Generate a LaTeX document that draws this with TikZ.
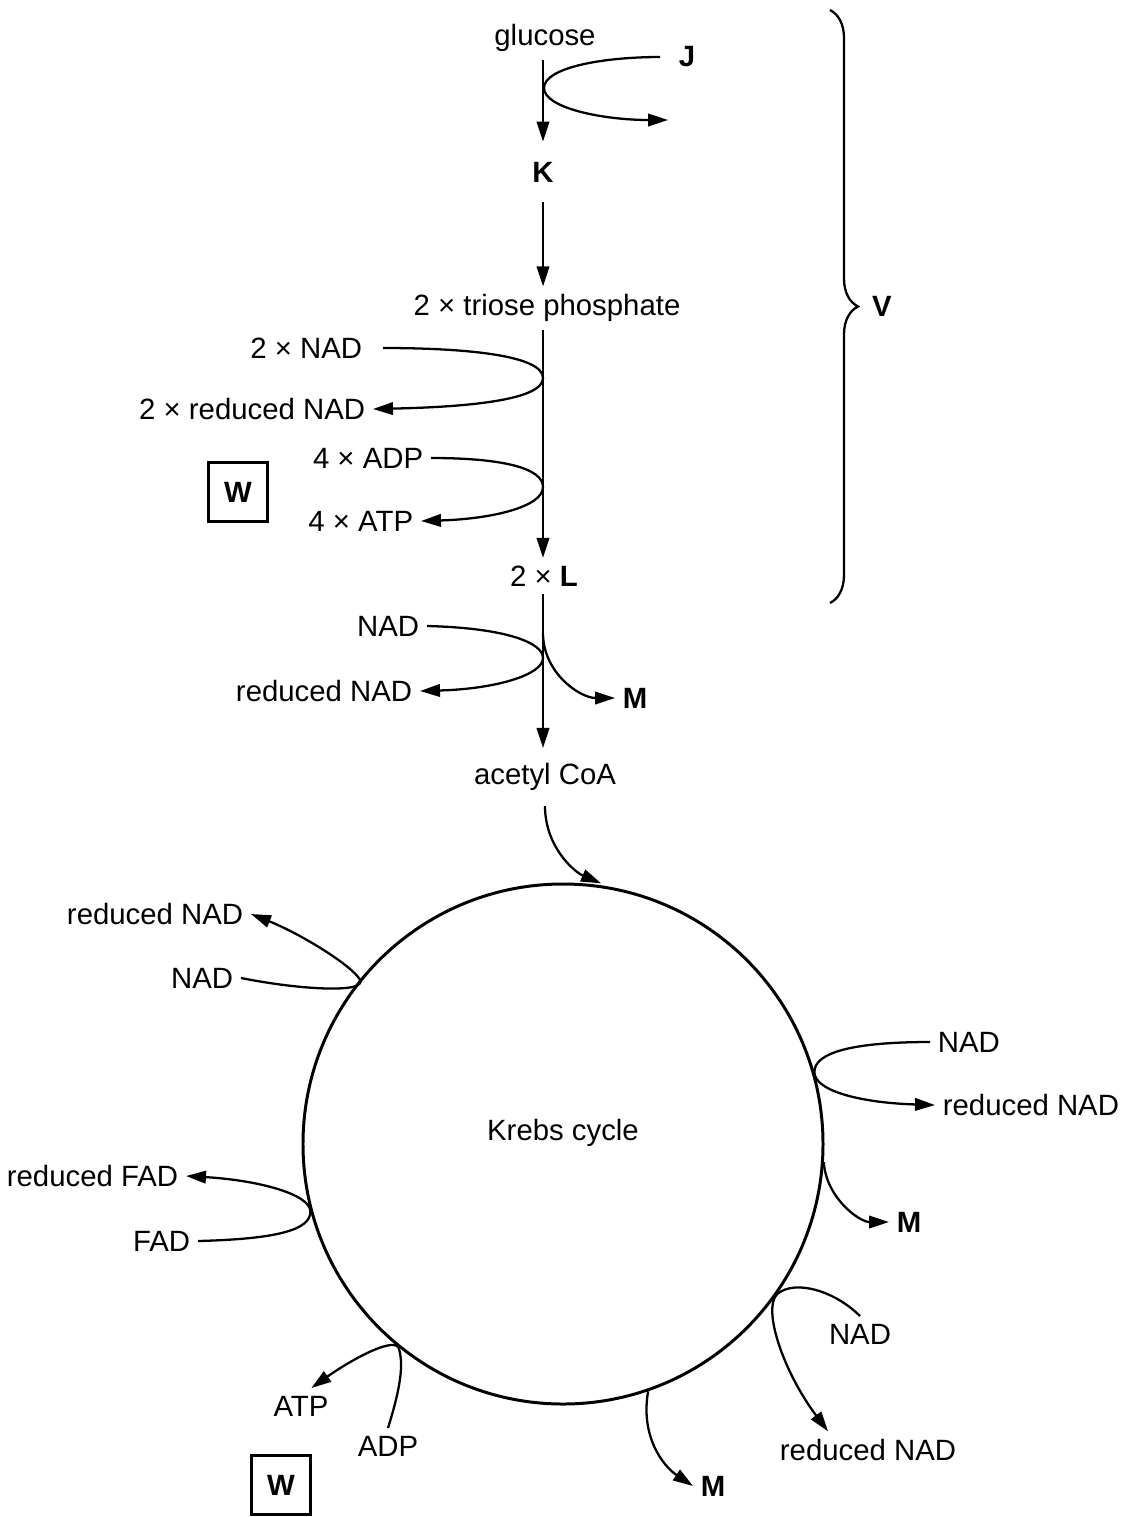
\documentclass[tikz,border=0pt]{standalone}
\usepackage{fontspec}
\setmainfont{Liberation Sans}
\usetikzlibrary{arrows.meta,positioning,decorations.pathreplacing}

\begin{document}
\begin{tikzpicture}[
    x=0.2mm, y=-0.2mm,
    lbl/.style={inner sep=1.5mm, font=\fontsize{16.7}{20}\selectfont},
    flow/.style={line width=1.3pt, -{Triangle[length=4mm,width=2.5mm]}},
    wbox/.style={draw, line width=1.4pt, minimum size=11.8mm, inner sep=0pt, font=\fontsize{16.7}{20}\selectfont\bfseries}
  ]
  \useasboundingbox (0,0) rectangle (1126,1517);

  % glycolysis
  \node[lbl] (glucose) at (545,38) {glucose};
  \node[lbl, anchor=west] (J) at (671,57) {\textbf{J}};
  \node[lbl, inner sep=4mm] (K) at (543,172) {\textbf{K}};
  \node[lbl] (triose) at (547,308) {2 × triose phosphate};
  \node[lbl, anchor=east] (nadA) at (370,348) {2 × NAD};
  \node[lbl, anchor=east] (rnadA) at (373,409) {2 × reduced NAD};
  \node[lbl, anchor=east] (adp) at (431,458) {4 × ADP};
  \node[lbl, anchor=east] (atp) at (421,521) {4 × ATP};
  \node[wbox] (wA) at (238,492) {W};
  \node[lbl] (Ltwo) at (544,576) {2 × \textbf{L}};
  \node[lbl] (V) at (882,306) {\textbf{V}};

  % link reaction
  \node[lbl, anchor=east] (nadB) at (427,626) {NAD};
  \node[lbl, anchor=east] (rnadB) at (420,691) {reduced NAD};
  \node[lbl, anchor=west] (mA) at (615,698) {\textbf{M}};
  \node[lbl, inner sep=3mm] (acoa) at (545,777) {acetyl CoA};

  % Krebs cycle
  \node[draw, circle, line width=1.7pt, minimum size=104mm, inner sep=0pt] (krebs) at (563,1144) {};
  \node[lbl] (ktext) at (563,1133) {Krebs cycle};
  \node[lbl, anchor=east] (rnadC) at (251,914) {reduced NAD};
  \node[lbl, anchor=east] (nadC) at (241,978) {NAD};
  \node[lbl, anchor=west] (nadD) at (930,1042) {NAD};
  \node[lbl, anchor=west] (rnadD) at (935,1105) {reduced NAD};
  \node[lbl, anchor=west] (mB) at (889,1222) {\textbf{M}};
  \node[lbl, anchor=east] (rfad) at (186,1176) {reduced FAD};
  \node[lbl, anchor=east] (fad) at (198,1241) {FAD};
  \node[lbl] (atpB) at (301,1406) {ATP};
  \node[lbl] (adpB) at (388,1446) {ADP};
  \node[wbox] (wB) at (281,1485) {W};
  \node[lbl, anchor=west] (mC) at (693,1486) {\textbf{M}};
  \node[lbl] (nadE) at (860,1334) {NAD};
  \node[lbl] (rnadE) at (868,1450) {reduced NAD};

  \coordinate (spine) at (543,0);
  \coordinate (vJ) at (544,88);
  \coordinate (jend) at (668,120);
  \coordinate (vA) at (543,378);
  \coordinate (vB) at (543,487);
  \coordinate (vC) at (543,658);
  \coordinate (brA) at (543,633);

  \draw[flow] (spine |- glucose.south) -- (spine |- K.north);
  \draw[flow] (spine |- K.south) -- (spine |- triose.north);
  \draw[flow] (spine |- triose.south) -- (spine |- Ltwo.north);
  \draw[flow] (spine |- Ltwo.south) -- (spine |- acoa.north);

  \draw[flow, shorten <=2.2mm] (J.west) .. controls +(-70,0) and +(0,-20) .. (vJ) .. controls +(0,20) and +(-65,0) .. (jend);
  \draw[flow, shorten <=2.6mm] (nadA.east) .. controls +(100,0) and +(0,-22) .. (vA) .. controls +(0,22) and +(95,-2) .. (rnadA.east);
  \draw[flow] (adp.east) .. controls +(75,0) and +(0,-18) .. (vB) .. controls +(0,20) and +(70,-2) .. (atp.east);
  \draw[flow] (nadB.east) .. controls +(80,2) and +(0,-15) .. (vC) .. controls +(0,17) and +(75,-2) .. (rnadB.east);
  \draw[flow] (brA) .. controls +(0,40) and +(-35,0) .. (mA.west);
  \draw[flow, shorten >=1.6mm] (acoa.south) .. controls +(0,40) and +(-35,-15) .. (krebs.80);

  \draw[flow] (nadC.east) .. controls +(60,12) and +(8,14) .. (krebs.141) .. controls +(-8,-14) and +(50,20) .. (rnadC.east);
  \draw[flow] (nadD.west) .. controls +(-75,0) and +(0,-20) .. (krebs.16) .. controls +(0,20) and +(-70,-2) .. (rnadD.west);
  \draw[flow] (krebs.-4) .. controls +(2,35) and +(-30,0) .. (mB.west);
  \draw[flow] (fad.east) .. controls +(80,-2) and +(0,18) .. (krebs.195) .. controls +(0,-18) and +(70,4) .. (rfad.east);
  \draw[flow] (adpB.north) .. controls +(14,-45) and +(5,15) .. (krebs.231) .. controls +(-8,-10) and +(35,-25) .. (atpB.60);
  \draw[flow] (krebs.-71) .. controls +(-8,45) and +(-30,-20) .. (mC.west);
  \draw[flow] (nadE.north) .. controls +(-25,-25) and +(18,-15) .. (krebs.-35) .. controls +(-15,15) and +(-45,-60) .. (rnadE.155);

  \draw[line width=1.3pt, decorate, decoration={brace, amplitude=5.6mm}] (830,10) -- (830,603);
\end{tikzpicture}
\end{document}
